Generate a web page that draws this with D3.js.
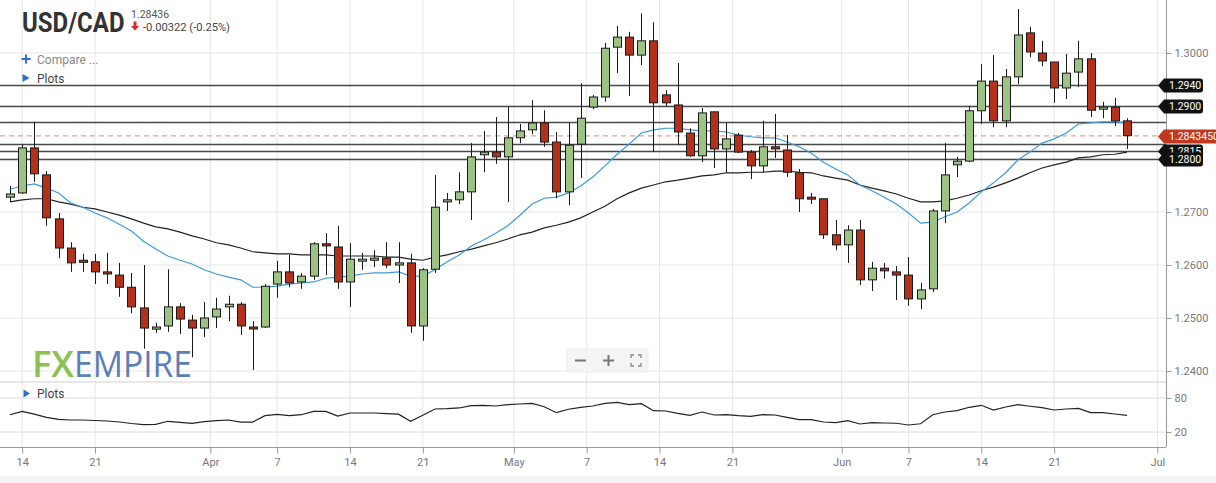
<!DOCTYPE html>
<html><head><meta charset="utf-8">
<script src="https://cdn.jsdelivr.net/npm/d3@7"></script>
<style>body{margin:0;background:#fff;overflow:hidden}svg{display:block;font-family:Roboto,"Open Sans",sans-serif}</style>
</head><body><svg id="c" width="1216" height="483"></svg>
<script>
const opens=[1.2728,1.2736,1.2821,1.2770,1.2687,1.2632,1.2609,1.2606,1.2587,1.2581,1.2558,1.2519,1.2479,1.2485,1.2521,1.2496,1.2481,1.2502,1.2521,1.2526,1.2483,1.2483,1.2564,1.2587,1.2568,1.2579,1.2640,1.2634,1.2568,1.2608,1.2609,1.2613,1.2600,1.2604,1.2485,1.2592,1.2719,1.2723,1.2738,1.2808,1.2813,1.2804,1.2840,1.2855,1.2868,1.2832,1.2738,1.2828,1.2898,1.2917,1.3011,1.3030,1.2996,1.3023,1.2921,1.2902,1.2849,1.2806,1.2889,1.2819,1.2845,1.2813,1.2787,1.2823,1.2817,1.2774,1.2728,1.2725,1.2657,1.2638,1.2666,1.2572,1.2594,1.2587,1.2581,1.2536,1.2555,1.2702,1.2789,1.2796,1.2891,1.2947,1.2872,1.2955,1.3038,1.3000,1.2983,1.2934,1.2964,1.2989,1.2894,1.2898,1.2872];
const highs=[1.2749,1.2828,1.2870,1.2777,1.2698,1.2643,1.2621,1.2621,1.2623,1.2604,1.2585,1.2600,1.2491,1.2592,1.2528,1.2506,1.2530,1.2538,1.2542,1.2530,1.2494,1.2564,1.2608,1.2619,1.2585,1.2643,1.2660,1.2674,1.2641,1.2623,1.2628,1.2643,1.2643,1.2621,1.2594,1.2770,1.2736,1.2775,1.2830,1.2853,1.2879,1.2898,1.2866,1.2911,1.2892,1.2851,1.2868,1.2943,1.2921,1.3019,1.3051,1.3040,1.3075,1.3058,1.2930,1.2981,1.2858,1.2896,1.2889,1.2868,1.2849,1.2817,1.2872,1.2885,1.2845,1.2781,1.2736,1.2725,1.2685,1.2675,1.2685,1.2606,1.2604,1.2598,1.2615,1.2566,1.2706,1.2830,1.2804,1.2900,1.2979,1.2996,1.2970,1.3083,1.3049,1.3023,1.2983,1.2998,1.3023,1.3000,1.2908,1.2915,1.2877];
const lows=[1.2719,1.2734,1.2757,1.2674,1.2613,1.2587,1.2587,1.2564,1.2564,1.2540,1.2509,1.2442,1.2472,1.2474,1.2470,1.2426,1.2464,1.2481,1.2494,1.2468,1.2402,1.2481,1.2538,1.2558,1.2555,1.2572,1.2581,1.2555,1.2521,1.2591,1.2596,1.2594,1.2566,1.2472,1.2457,1.2585,1.2702,1.2715,1.2685,1.2775,1.2791,1.2719,1.2830,1.2847,1.2823,1.2726,1.2713,1.2764,1.2894,1.2908,1.2962,1.2919,1.2977,1.2813,1.2900,1.2826,1.2804,1.2794,1.2783,1.2774,1.2811,1.2762,1.2775,1.2802,1.2766,1.2700,1.2715,1.2649,1.2628,1.2604,1.2562,1.2551,1.2574,1.2534,1.2523,1.2517,1.2549,1.2679,1.2766,1.2794,1.2866,1.2860,1.2860,1.2941,1.2992,1.2975,1.2906,1.2913,1.2936,1.2879,1.2877,1.2862,1.2819];
const closes=[1.2734,1.2821,1.2772,1.2689,1.2632,1.2604,1.2605,1.2587,1.2583,1.2558,1.2521,1.2481,1.2483,1.2521,1.2498,1.2481,1.2500,1.2517,1.2526,1.2485,1.2481,1.2560,1.2587,1.2566,1.2579,1.2640,1.2636,1.2568,1.2611,1.2611,1.2613,1.2600,1.2604,1.2485,1.2591,1.2709,1.2723,1.2738,1.2804,1.2813,1.2804,1.2840,1.2853,1.2868,1.2832,1.2738,1.2826,1.2877,1.2917,1.3009,1.3030,1.2996,1.3023,1.2906,1.2906,1.2851,1.2806,1.2887,1.2819,1.2838,1.2813,1.2787,1.2823,1.2819,1.2775,1.2725,1.2725,1.2657,1.2638,1.2666,1.2572,1.2594,1.2589,1.2581,1.2536,1.2553,1.2702,1.2770,1.2796,1.2891,1.2947,1.2872,1.2955,1.3034,1.3002,1.2985,1.2934,1.2962,1.2989,1.2892,1.2898,1.2872,1.2844];
const maFast=[1.2743,1.2749,1.2753,1.2745,1.2736,1.2717,1.2709,1.2698,1.2689,1.2677,1.2664,1.2645,1.2630,1.2617,1.2609,1.2602,1.2591,1.2583,1.2577,1.2572,1.2558,1.2558,1.2560,1.2564,1.2566,1.2568,1.2575,1.2577,1.2579,1.2583,1.2585,1.2585,1.2587,1.2579,1.2579,1.2591,1.2606,1.2619,1.2636,1.2647,1.2660,1.2674,1.2694,1.2715,1.2726,1.2728,1.2736,1.2749,1.2766,1.2787,1.2809,1.2828,1.2849,1.2855,1.2858,1.2858,1.2855,1.2853,1.2853,1.2851,1.2845,1.2842,1.2840,1.2840,1.2832,1.2823,1.2811,1.2794,1.2781,1.2770,1.2751,1.2740,1.2728,1.2715,1.2698,1.2679,1.2681,1.2691,1.2700,1.2717,1.2738,1.2755,1.2774,1.2798,1.2813,1.2830,1.2838,1.2849,1.2866,1.2868,1.2870,1.2870,1.2868];
const maSlow=[1.2719,1.2723,1.2725,1.2725,1.2719,1.2715,1.2709,1.2706,1.2700,1.2694,1.2687,1.2679,1.2672,1.2668,1.2662,1.2655,1.2649,1.2642,1.2638,1.2632,1.2625,1.2623,1.2621,1.2621,1.2619,1.2619,1.2619,1.2617,1.2617,1.2617,1.2617,1.2615,1.2615,1.2611,1.2609,1.2615,1.2619,1.2625,1.2630,1.2636,1.2642,1.2649,1.2657,1.2662,1.2670,1.2675,1.2681,1.2689,1.2700,1.2711,1.2725,1.2736,1.2745,1.2751,1.2757,1.2760,1.2764,1.2768,1.2770,1.2774,1.2774,1.2775,1.2775,1.2777,1.2777,1.2775,1.2774,1.2768,1.2764,1.2760,1.2751,1.2745,1.2740,1.2734,1.2726,1.2719,1.2719,1.2721,1.2726,1.2732,1.2740,1.2747,1.2755,1.2764,1.2774,1.2783,1.2789,1.2794,1.2802,1.2804,1.2808,1.2809,1.2813];
const osc=[50.5,56.5,51.5,45.9,42.4,41.2,41.2,40.3,39.4,37.6,35.0,32.9,33.6,38.9,37.1,35.4,38.2,39.9,41.2,37.6,37.6,48.8,51.2,48.8,50.5,56.5,56.5,48.2,53.5,53.5,53.5,52.3,51.5,38.9,49.5,60.6,61.1,62.4,66.4,67.1,65.9,68.2,69.4,70.6,64.6,54.1,60.1,63.6,65.9,70.6,72.4,68.2,69.9,57.6,57.1,53.0,49.5,55.3,50.0,50.5,48.8,47.7,50.5,50.0,45.9,41.7,41.7,37.6,36.4,39.9,34.1,36.4,35.9,35.4,32.4,34.6,50.5,55.3,57.6,63.6,67.1,58.8,64.1,68.2,65.4,62.9,58.8,60.6,61.8,54.1,54.1,51.8,49.5];
const levels=[1.2940,1.2900,1.2870,1.2828,1.2815,1.2800];
const labelledLevels=[1.2940,1.2900,1.2815,1.2800];
const lastPrice=1.284345;
const priceTicks=[1.24,1.25,1.26,1.27,1.28,1.29,1.30];
const oscTicks=[20,80];
const xTickLabels=["14","21","Apr","7","14","21","May","7","14","21","Jun","7","14","21","Jul"];
const xTickPos=[1,7,16.5,22,28,34,41.5,47.5,53.5,59.5,68.5,74,80,86,94.5];

const svg=d3.select("#c");
const plotR=1166, axisY=447;
const x=d3.scaleLinear().domain([0,92]).range([10,1127]);
const y=d3.scaleLinear().domain([1.24,1.30]).range([371,53]);
const yo=d3.scaleLinear().domain([20,80]).range([432,398]);
const n=opens.length, idx=d3.range(n);
const fmt=d3.format(".4f");

svg.append("rect").attr("x",0).attr("y",0).attr("width",1216).attr("height",483).attr("fill","#fff");
svg.append("rect").attr("x",0).attr("y",476).attr("width",1216).attr("height",7).attr("fill","#f3f3f3");

// grid
const g=svg.append("g");
g.selectAll(".hg").data(priceTicks).join("line").attr("x1",0).attr("x2",plotR).attr("y1",d=>y(d)).attr("y2",d=>y(d)).attr("stroke","#e6e6e6");
g.selectAll(".og").data(oscTicks).join("line").attr("x1",0).attr("x2",plotR).attr("y1",d=>yo(d)).attr("y2",d=>yo(d)).attr("stroke","#dcdcdc");
g.selectAll(".vg").data(xTickPos).join("line").attr("x1",d=>x(d)).attr("x2",d=>x(d)).attr("y1",0).attr("y2",axisY).attr("stroke","#e6e6e6");
g.append("line").attr("x1",0).attr("x2",plotR).attr("y1",382).attr("y2",382).attr("stroke","#d0d0d0");

// header
svg.append("text").attr("transform","translate(22,32) scale(1,1.15)").attr("font-size",24).attr("font-weight",700).attr("fill","#333").text("USD/CAD");
svg.append("text").attr("x",131).attr("y",17.5).attr("font-size",10.5).attr("fill","#555").text("1.28436");
svg.append("path").attr("d","M133.5,21.5h3v4.5h2.5l-4,4.5l-4,-4.5h2.5z").attr("fill","#e0262f");
svg.append("text").attr("x",143).attr("y",30.5).attr("font-size",11).attr("fill","#444").attr("textLength",87).attr("lengthAdjust","spacingAndGlyphs").text("-0.00322 (-0.25%)");
svg.append("path").attr("d","M21.5,59h9M26,54.5v9").attr("stroke","#2f6fc9").attr("stroke-width",2);
svg.append("text").attr("x",37).attr("y",63.5).attr("font-size",12).attr("fill","#888").text("Compare ...");
svg.append("path").attr("d","M22.5,74L29.5,78L22.5,82Z").attr("fill","#2f6fc9");
svg.append("text").attr("x",37).attr("y",82.5).attr("font-size",12).attr("fill","#444").text("Plots");
svg.append("path").attr("d","M23.5,389.5L30,393.5L23.5,397.5Z").attr("fill","#2f6fc9");
svg.append("text").attr("x",37).attr("y",398).attr("font-size",12).attr("fill","#444").text("Plots");

// logo
svg.append("text").attr("x",32).attr("y",377).attr("font-size",36).attr("font-family","'Open Sans',sans-serif").attr("font-weight",600).attr("fill","#8cc152").attr("textLength",42).attr("lengthAdjust","spacingAndGlyphs").text("FX");
svg.append("text").attr("x",74).attr("y",377).attr("font-size",36).attr("font-family","'Open Sans',sans-serif").attr("font-weight",500).attr("fill","#5b7fb6").attr("textLength",118).attr("lengthAdjust","spacingAndGlyphs").text("EMPIRE");

// zoom controls
svg.append("rect").attr("x",567).attr("y",349).attr("width",81).attr("height",23).attr("rx",2).attr("fill","#f5f5f5").attr("stroke","#ececec");
svg.append("path").attr("d","M575,360.5h11M603,360.5h11M608.5,355v11").attr("stroke","#777").attr("stroke-width",2);
svg.append("path").attr("d","M631,358v-3h3M638,355h3v3M641,363v3h-3M634,366h-3v-3").attr("stroke","#888").attr("stroke-width",1.3).attr("fill","none");

// level lines
svg.selectAll(".lv").data(levels).join("line").attr("x1",0).attr("x2",plotR).attr("y1",d=>Math.round(y(d))+0.5).attr("y2",d=>Math.round(y(d))+0.5).attr("stroke","#4a4a4a").attr("stroke-width",1.4);
svg.append("line").attr("x1",0).attr("x2",plotR).attr("y1",y(lastPrice)).attr("y2",y(lastPrice)).attr("stroke","#eaa08c").attr("stroke-width",1.3).attr("stroke-dasharray","5,4");

// moving averages
const line=d3.line().x((d,i)=>x(i)).y(d=>y(d));
svg.append("path").attr("d",line(maSlow)).attr("fill","none").attr("stroke","#222").attr("stroke-width",1.2);
svg.append("path").attr("d",line(maFast)).attr("fill","none").attr("stroke","#3a9ad9").attr("stroke-width",1.2);

// candles
const cg=svg.append("g");
cg.selectAll(".wk").data(idx).join("line").attr("x1",i=>Math.round(x(i))+0.5).attr("x2",i=>Math.round(x(i))+0.5).attr("y1",i=>y(highs[i])).attr("y2",i=>y(lows[i])).attr("stroke","#1a1a1a").attr("stroke-width",1);
cg.selectAll(".bd").data(idx).join("rect")
  .attr("x",i=>Math.round(x(i))-3.5).attr("width",8)
  .attr("y",i=>y(Math.max(opens[i],closes[i])))
  .attr("height",i=>Math.max(2,Math.abs(y(opens[i])-y(closes[i]))))
  .attr("fill",i=>closes[i]>=opens[i]?"#9dc384":"#b3301b")
  .attr("stroke","#1a1a1a").attr("stroke-width",1);

// oscillator
const oline=d3.line().x((d,i)=>x(i)).y(d=>yo(d));
svg.append("path").attr("d",oline(osc)).attr("fill","none").attr("stroke","#222").attr("stroke-width",1.2);

// axes
svg.append("line").attr("x1",plotR+0.5).attr("x2",plotR+0.5).attr("y1",0).attr("y2",axisY).attr("stroke","#999");
svg.append("line").attr("x1",0).attr("x2",plotR).attr("y1",axisY+0.5).attr("y2",axisY+0.5).attr("stroke","#999");
const ya=svg.append("g").attr("transform",`translate(${plotR+0.5},0)`).call(d3.axisRight(y).tickValues(priceTicks).tickFormat(d=>labelledLevels.some(l=>Math.abs(l-d)<1e-6)?"":fmt(d)).tickSize(5).tickPadding(3));
const oa=svg.append("g").attr("transform",`translate(${plotR+0.5},0)`).call(d3.axisRight(yo).tickValues(oscTicks).tickSize(5).tickPadding(3));
const xa=svg.append("g").attr("transform",`translate(0,${axisY+0.5})`).call(d3.axisBottom(x).tickValues(xTickPos).tickFormat((d,i)=>xTickLabels[i]).tickSize(6).tickPadding(5));
[ya,oa,xa].forEach(a=>{a.select(".domain").remove();a.selectAll("line").attr("stroke","#999");a.selectAll("text").attr("fill","#777").attr("font-size",11).attr("font-family","Roboto,sans-serif");});

// level labels
function tag(v,color,w,txt){
  const yy=Math.round(y(v))+0.5, h=7;
  const gg=svg.append("g");
  gg.append("path").attr("d",`M1158,${yy}L1164,${yy-h}H${1158+w-3}Q${1158+w},${yy-h} ${1158+w},${yy-h+3}V${yy+h-3}Q${1158+w},${yy+h} ${1158+w-3},${yy+h}H1164Z`).attr("fill",color);
  gg.append("text").attr("x",1169).attr("y",yy+3.8).attr("font-size",10.5).attr("fill","#fff").attr("font-family","Roboto,sans-serif").text(txt);
}
labelledLevels.forEach(v=>tag(v,"#111",45,fmt(v)));
tag(lastPrice,"#c0391f",62,d3.format(".7f")(lastPrice));
</script></body></html>
